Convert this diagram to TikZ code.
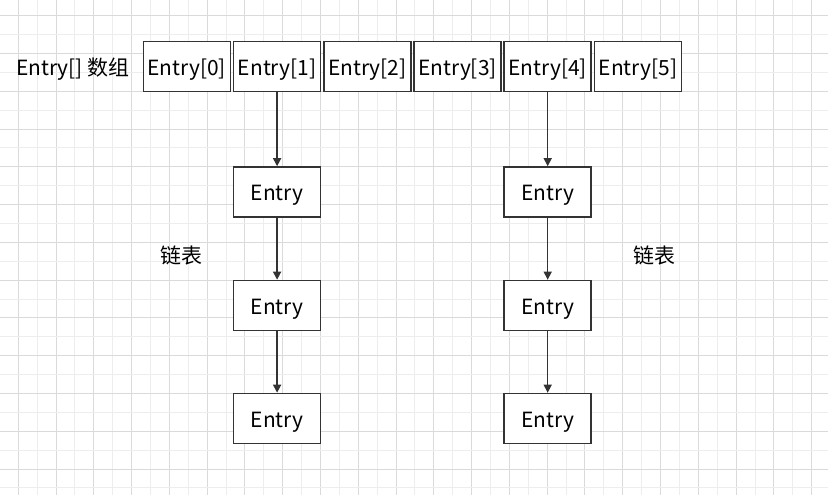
\documentclass[tikz,border=0pt]{standalone}
\usepackage{fontspec}
\setmainfont{Noto Sans CJK SC}
\usetikzlibrary{arrows.meta}
\definecolor{boxline}{HTML}{333333}
\definecolor{gridminor}{HTML}{EDEDED}
\definecolor{gridmajor}{HTML}{DADADA}
\tikzset{
  cell/.style={draw=boxline, line width=1.2pt, fill=white, minimum width=65.25pt, minimum height=37.5pt, inner sep=0pt, text height=13.5pt, text depth=0pt, font=\fontsize{15.7}{18}\selectfont},
  lbl/.style={inner sep=0pt, font=\fontsize{15.7}{18}\selectfont},
  link/.style={draw=boxline, line width=1.1pt, -{Triangle[length=6pt,width=6pt]}}
}
\begin{document}
\begin{tikzpicture}[x=0.75pt, y=-0.75pt]
\useasboundingbox (0,0) rectangle (828,495);
\fill[white] (0,0) rectangle (828,495);
% grid
\foreach \k in {0,...,44}{
  \pgfmathsetmacro{\gx}{-0.6+\k*18.89}
  \pgfmathtruncatemacro{\odd}{mod(\k,2)}
  \ifnum\odd=1
    \draw[gridmajor, line width=0.75pt] (\gx,0) -- (\gx,495);
  \else
    \draw[gridminor, line width=0.75pt] (\gx,0) -- (\gx,495);
  \fi
}
\foreach \k in {0,...,27}{
  \pgfmathsetmacro{\gy}{-3.2+\k*18.89}
  \pgfmathtruncatemacro{\odd}{mod(\k,2)}
  \ifnum\odd=1
    \draw[gridmajor, line width=0.75pt] (0,\gy) -- (828,\gy);
  \else
    \draw[gridminor, line width=0.75pt] (0,\gy) -- (828,\gy);
  \fi
}
% array
\node[lbl, anchor=base west] (arrlbl) at (16,76) {Entry[] 数组};
\node[cell] (e0) at (186.8,66.5) {Entry[0]};
\node[cell] (e1) at (277.1,66.5) {Entry[1]};
\node[cell] (e2) at (367.3,66.5) {Entry[2]};
\node[cell] (e3) at (457.5,66.5) {Entry[3]};
\node[cell] (e4) at (547.7,66.5) {Entry[4]};
\node[cell] (e5) at (637.9,66.5) {Entry[5]};
% chains
\node[cell] (a1) at (277.1,192) {Entry};
\node[cell] (a2) at (277.1,305.5) {Entry};
\node[cell] (a3) at (277.1,418.5) {Entry};
\node[cell] (b1) at (547.7,192) {Entry};
\node[cell] (b2) at (547.7,305.5) {Entry};
\node[cell] (b3) at (547.7,418.5) {Entry};
\node[lbl, anchor=base west] (la) at (160,264) {链表};
\node[lbl, anchor=base west] (lb) at (633.5,263.5) {链表};
\draw[link] (e1) -- (a1);
\draw[link] (a1) -- (a2);
\draw[link] (a2) -- (a3);
\draw[link] (e4) -- (b1);
\draw[link] (b1) -- (b2);
\draw[link] (b2) -- (b3);
\end{tikzpicture}
\end{document}
